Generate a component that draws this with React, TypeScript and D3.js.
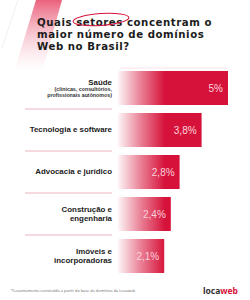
import { useEffect, useRef } from "react";
import * as d3 from "d3";

const categories = [
  "Saúde",
  "Tecnologia e software",
  "Advocacia e jurídico",
  "Construção e engenharia",
  "Imóveis e incorporadoras",
];
const labelLines = [
  ["Saúde"],
  ["Tecnologia e software"],
  ["Advocacia e jurídico"],
  ["Construção e", "engenharia"],
  ["Imóveis e", "incorporadoras"],
];
const subLabelLines = [["(clínicas, consultórios,", "profissionais autônomos)"], [], [], [], []];
const values = [5, 3.8, 2.8, 2.4, 2.1];
const valueLabels = ["5%", "3,8%", "2,8%", "2,4%", "2,1%"];
const titleLines = ["Quais setores concentram o", "maior número de domínios", "Web no Brasil?"];
const footnote = "*Levantamento construído a partir da base de domínios da Locaweb";

const RED = "#d6123a";

const App = () => {
  const svgRef = useRef<SVGSVGElement>(null);

  useEffect(() => {
    const width = 250;
    const height = 300;
    const svg = d3.select(svgRef.current).attr("width", width).attr("height", height);
    svg.selectAll("*").remove();

    const defs = svg.append("defs");
    const grad = defs
      .append("linearGradient")
      .attr("id", "barGrad")
      .attr("gradientUnits", "userSpaceOnUse")
      .attr("x1", 118)
      .attr("x2", 165)
      .attr("y1", 0)
      .attr("y2", 0);
    grad.append("stop").attr("offset", 0).attr("stop-color", RED).attr("stop-opacity", 0.04);
    grad.append("stop").attr("offset", 0.5).attr("stop-color", RED).attr("stop-opacity", 0.55);
    grad.append("stop").attr("offset", 1).attr("stop-color", RED).attr("stop-opacity", 1);

    const stripe = defs
      .append("linearGradient")
      .attr("id", "stripeGrad")
      .attr("x1", 0)
      .attr("y1", 0)
      .attr("x2", 0)
      .attr("y2", 1);
    stripe.append("stop").attr("offset", 0).attr("stop-color", "#e8506e").attr("stop-opacity", 0.9);
    stripe.append("stop").attr("offset", 1).attr("stop-color", "#f7c6d1").attr("stop-opacity", 0);

    svg.append("rect").attr("width", width).attr("height", height).attr("fill", "#ffffff");

    // decorative stripe at top left
    svg
      .append("path")
      .attr("d", "M36,0 L62,0 L42,72 L14,72 Z")
      .attr("fill", "url(#stripeGrad)");
    svg
      .append("path")
      .attr("d", "M18,0 L2,48")
      .attr("stroke", "#e6e6e6")
      .attr("stroke-width", 0.6)
      .attr("fill", "none");
    svg
      .append("line")
      .attr("x1", 120)
      .attr("x2", 228)
      .attr("y1", 68)
      .attr("y2", 68)
      .attr("stroke", "#fbe3e8")
      .attr("stroke-width", 1);

    // title
    const title = svg
      .append("text")
      .attr("x", 37)
      .attr("y", 26)
      .attr("font-family", "'DejaVu Sans', sans-serif")
      .attr("font-weight", 700)
      .attr("font-size", 10.2)
      .attr("letter-spacing", 0.55)
      .attr("fill", "#1c1c1c");
    titleLines.forEach((t, i) => {
      title.append("tspan").attr("x", 37).attr("dy", i === 0 ? 0 : 11.8).text(t);
    });
    svg
      .append("ellipse")
      .attr("cx", 101)
      .attr("cy", 19.5)
      .attr("rx", 28)
      .attr("ry", 6)
      .attr("transform", "rotate(-4 101 19.5)")
      .attr("fill", "none")
      .attr("stroke", RED)
      .attr("stroke-width", 1);

    const x = d3.scaleLinear().domain([0, 5]).range([118, 228]);
    const y = d3
      .scaleBand()
      .domain(categories)
      .range([67, 277])
      .paddingInner(0.19)
      .paddingOuter(0.095);

    // separators
    svg
      .append("g")
      .selectAll("line")
      .data(categories.slice(0, -1))
      .join("line")
      .attr("x1", 25)
      .attr("x2", 112)
      .attr("y1", (d) => y(d)! + y.bandwidth() + (y.step() - y.bandwidth()) / 2)
      .attr("y2", (d) => y(d)! + y.bandwidth() + (y.step() - y.bandwidth()) / 2)
      .attr("stroke", "#eeb3c0")
      .attr("stroke-width", 1);

    // bars
    svg
      .append("g")
      .selectAll("rect")
      .data(categories)
      .join("rect")
      .attr("x", x(0))
      .attr("y", (d) => y(d)!)
      .attr("width", (d, i) => x(values[i]) - x(0))
      .attr("height", y.bandwidth())
      .attr("fill", "url(#barGrad)");

    // value labels
    svg
      .append("g")
      .selectAll("text")
      .data(categories)
      .join("text")
      .attr("x", (d, i) => x(values[i]) - 5)
      .attr("y", (d) => y(d)! + y.bandwidth() / 2 + 3.6)
      .attr("text-anchor", "end")
      .attr("font-family", "'Liberation Sans', Arial, sans-serif")
      .attr("font-size", 10)
      .attr("fill", "#fbd3dc")
      .text((d, i) => valueLabels[i]);

    // category labels
    categories.forEach((c, i) => {
      const cy = y(c)! + y.bandwidth() / 2;
      const main = labelLines[i];
      const sub = subLabelLines[i];
      const lh = 8.6;
      const subLh = 5.6;
      const total = main.length * lh + sub.length * subLh;
      let yy = cy - total / 2 + 6.6;
      const g = svg.append("g").attr("font-family", "'Liberation Sans', Arial, sans-serif").attr("text-anchor", "end");
      main.forEach((t) => {
        g.append("text").attr("x", 112).attr("y", yy).attr("font-size", 7.9).attr("font-weight", 700).attr("fill", "#1c1c1c").text(t);
        yy += lh;
      });
      yy -= 2.2;
      sub.forEach((t) => {
        g.append("text").attr("x", 112).attr("y", yy).attr("font-size", 5.3).attr("font-weight", 700).attr("fill", "#333").text(t);
        yy += subLh;
      });
    });

    // footnote
    svg
      .append("text")
      .attr("x", 11)
      .attr("y", 292)
      .attr("font-family", "'Open Sans', sans-serif")
      .attr("font-size", 3.9)
      .attr("fill", "#666")
      .text(footnote);

    // logo
    const logo = svg
      .append("text")
      .attr("x", 238)
      .attr("y", 293.5)
      .attr("text-anchor", "end")
      .attr("font-family", "'Noto Sans', sans-serif")
      .attr("font-weight", 700)
      .attr("font-size", 8.5);
    logo.append("tspan").attr("fill", "#333").text("loca");
    logo.append("tspan").attr("fill", RED).text("web");
  }, []);

  return (
    <div style={{ position: "absolute", left: 0, top: 0 }}>
      <svg ref={svgRef} style={{ display: "block" }}></svg>
    </div>
  );
};

export default App;
